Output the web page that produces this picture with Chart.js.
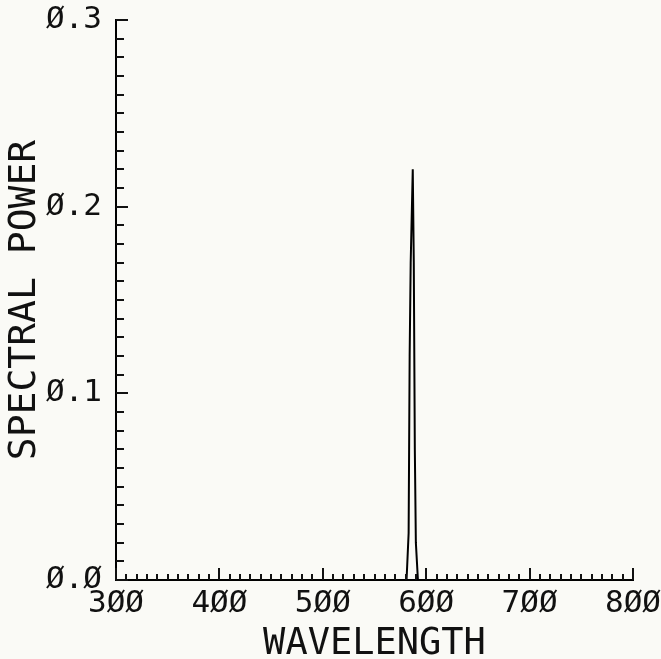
<!DOCTYPE html>
<html>
<head>
<meta charset="utf-8">
<script src="https://cdn.jsdelivr.net/npm/chart.js@4.4.1/dist/chart.umd.min.js"></script>
<style>
    html, body { margin: 0; padding: 0; background: #fafaf6; }
    canvas { display: block; }
</style>
</head>
<body>
<canvas id="chart-spectrum" width="661" height="659"></canvas>
<script>
// ------------------------------
// DATA
// ------------------------------
const wavelengths = [300, 581, 583, 584, 585, 587, 588, 589, 590, 592, 800];
const power       = [0,   0,   0.025, 0.12, 0.17, 0.22, 0.17, 0.07, 0.02, 0, 0];

const xMajor = [300, 400, 500, 600, 700, 800];
const yMajor = [0, 0.1, 0.2, 0.3];

const xLabel = "WAVELENGTH";
const yLabel = "SPECTRAL POWER";

const FONT = "'DejaVu Sans Mono', monospace";
const INK  = "#111";

// plotter style slashed zeros
const slash = (s) => s.replace(/0/g, "Ø");

// ------------------------------
// INWARD TICK MARKS
// ------------------------------
const inwardTicks = {
    id: "inwardTicks",
    afterDraw(chart) {
        const { ctx, chartArea } = chart;
        const xs = chart.scales.x;
        const ys = chart.scales.y;

        ctx.save();
        ctx.strokeStyle = INK;
        ctx.lineWidth = 2;
        ctx.beginPath();

        // x: every 10 nm, long at 100s
        for (let w = 300; w <= 800; w += 10) {
            const px = Math.round(xs.getPixelForValue(w));
            const len = (w % 100 === 0) ? 12 : 6;
            ctx.moveTo(px, chartArea.bottom);
            ctx.lineTo(px, chartArea.bottom - len);
        }

        // y: every 0.01, long at 0.1s
        for (let i = 0; i <= 30; i++) {
            const py = Math.round(ys.getPixelForValue(i / 100));
            const len = (i % 10 === 0) ? 12 : 8;
            ctx.moveTo(chartArea.left, py);
            ctx.lineTo(chartArea.left + len, py);
        }

        ctx.stroke();
        ctx.restore();
    }
};

// ------------------------------
// CHART
// ------------------------------
const canvas = document.getElementById("chart-spectrum");

new Chart(canvas.getContext("2d"), {
    type: "line",
    data: {
        datasets: [{
            data: wavelengths.map((w, i) => ({ x: w, y: power[i] })),
            borderColor: "#000",
            borderWidth: 2,
            pointRadius: 0,
            tension: 0,
            fill: false
        }]
    },
    options: {
        responsive: false,
        animation: false,
        devicePixelRatio: 1,
        layout: { padding: { top: 20, right: 28, left: 0, bottom: 0 } },
        plugins: { legend: { display: false }, tooltip: { enabled: false } },
        scales: {
            x: {
                type: "linear",
                min: 300,
                max: 800,
                afterBuildTicks: (s) => { s.ticks = xMajor.map(v => ({ value: v })); },
                afterFit: (s) => { s.height = 79; s.paddingLeft = 0; s.paddingRight = 0; },
                grid: { display: false, drawTicks: false },
                border: { display: true, color: "#000", width: 2 },
                ticks: {
                    color: INK,
                    autoSkip: false,
                    maxRotation: 0,
                    padding: 5,
                    font: { family: FONT, size: 31 },
                    callback: (v) => slash(String(v))
                },
                title: {
                    display: true,
                    text: xLabel,
                    color: INK,
                    font: { family: FONT, size: 37, lineHeight: 1 },
                    padding: { top: 0, bottom: -4 }
                }
            },
            y: {
                min: 0,
                max: 0.3,
                afterBuildTicks: (s) => { s.ticks = yMajor.map(v => ({ value: v })); },
                afterFit: (s) => { s.width = 116; s.paddingTop = 0; s.paddingBottom = 0; },
                grid: { display: false, drawTicks: false },
                border: { display: true, color: "#000", width: 2 },
                ticks: {
                    color: INK,
                    autoSkip: false,
                    padding: 14,
                    font: { family: FONT, size: 31 },
                    callback: (v) => slash(Number(v).toFixed(1))
                },
                title: {
                    display: true,
                    text: yLabel,
                    color: INK,
                    font: { family: FONT, size: 38, lineHeight: 1 },
                    padding: { top: 6, bottom: 0 }
                }
            }
        }
    },
    plugins: [inwardTicks]
});
</script>
</body>
</html>
